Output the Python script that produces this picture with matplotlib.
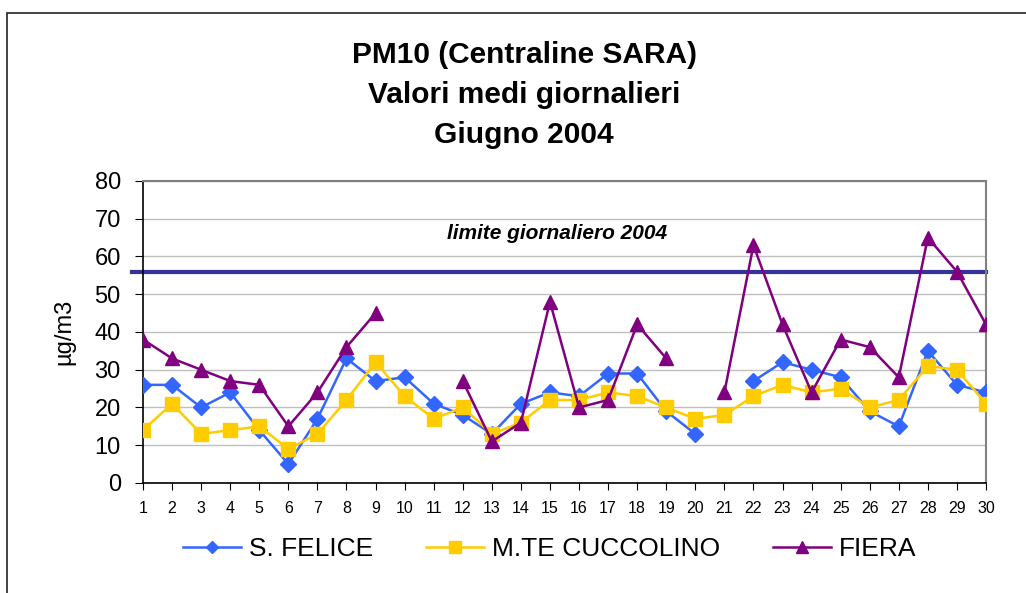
import numpy as np
import matplotlib
matplotlib.use("Agg")
from matplotlib import pyplot as plt
from matplotlib.patches import Rectangle

plt.rcParams['font.family'] = ['Liberation Sans', 'DejaVu Sans']

giorni = list(range(1, 31))
nan = np.nan

# valori medi giornalieri PM10 (ug/m3), giugno 2004
s_felice = [26, 26, 20, 24, 14, 5, 17, 33, 27, 28,
            21, 18, 13, 21, 24, 23, 29, 29, 19, 13,
            nan, 27, 32, 30, 28, 19, 15, 35, 26, 24]
cuccolino = [14, 21, 13, 14, 15, 9, 13, 22, 32, 23,
             17, 20, 13, 16, 22, 22, 24, 23, 20, 17,
             18, 23, 26, 24, 25, 20, 22, 31, 30, 21]
fiera = [38, 33, 30, 27, 26, 15, 24, 36, 45, nan,
         nan, 27, 11, 16, 48, 20, 22, 42, 33, nan,
         24, 63, 42, 24, 38, 36, 28, 65, 56, 42]
limite = 56

y_ticks = list(range(0, 81, 10))

fig = plt.figure(figsize=(10.26, 5.93), dpi=100)
ax = fig.add_axes([0.1394, 0.1855, 0.8216, 0.5093])

# cornice del grafico
fig.patches.append(Rectangle((7 / 1026, -0.1), 1.2, 1 - 13 / 593 + 0.1,
                             transform=fig.transFigure, fill=False,
                             edgecolor='#222222', linewidth=1.2))

ax.plot(giorni, s_felice, color='#3366FF', marker='D', markersize=8,
        linewidth=1.8, label='S. FELICE', zorder=3)
ax.plot(giorni, cuccolino, color='#FFCC00', marker='s', markersize=10,
        linewidth=1.8, label='M.TE CUCCOLINO', zorder=4)
ax.plot(giorni, fiera, color='#800080', marker='^', markersize=10,
        linewidth=1.8, label='FIERA', zorder=5)

ax.axhline(limite, xmin=-0.013, xmax=1, color='#333399', linewidth=3,
           clip_on=False, zorder=2)
ax.text(15.26, 66.2, 'limite giornaliero 2004', ha='center', va='center',
        fontsize=15, fontweight='bold', style='italic')

ax.set_xlim(1, 30)
ax.set_ylim(0, 80)
ax.set_xticks(giorni)
ax.set_yticks(y_ticks)
ax.tick_params(axis='x', labelsize=11.5, direction='out', length=5, pad=8)
ax.tick_params(axis='y', labelsize=17, direction='out', length=6, pad=10)
ax.yaxis.grid(True, color='#C0C0C0', linewidth=1)
ax.set_axisbelow(True)
for s in ['top', 'right']:
    ax.spines[s].set_color('#808080')
    ax.spines[s].set_linewidth(1.5)
for s in ['left', 'bottom']:
    ax.spines[s].set_color('black')
    ax.spines[s].set_linewidth(1.2)
ax.set_ylabel('µg/m3', fontsize=17, labelpad=14)

fig.text(524 / 1026, 1 - 95 / 593,
         'PM10 (Centraline SARA)\nValori medi giornalieri\nGiugno 2004',
         ha='center', va='center', fontsize=21.5, fontweight='bold',
         linespacing=1.55)

fig.legend(loc='center', bbox_to_anchor=(550 / 1026, 1 - 549 / 593),
           ncol=3, frameon=False, fontsize=19, handlelength=2.2,
           columnspacing=2.0, handletextpad=0.3, markerscale=0.8)

fig.savefig('out.png', dpi=100)
